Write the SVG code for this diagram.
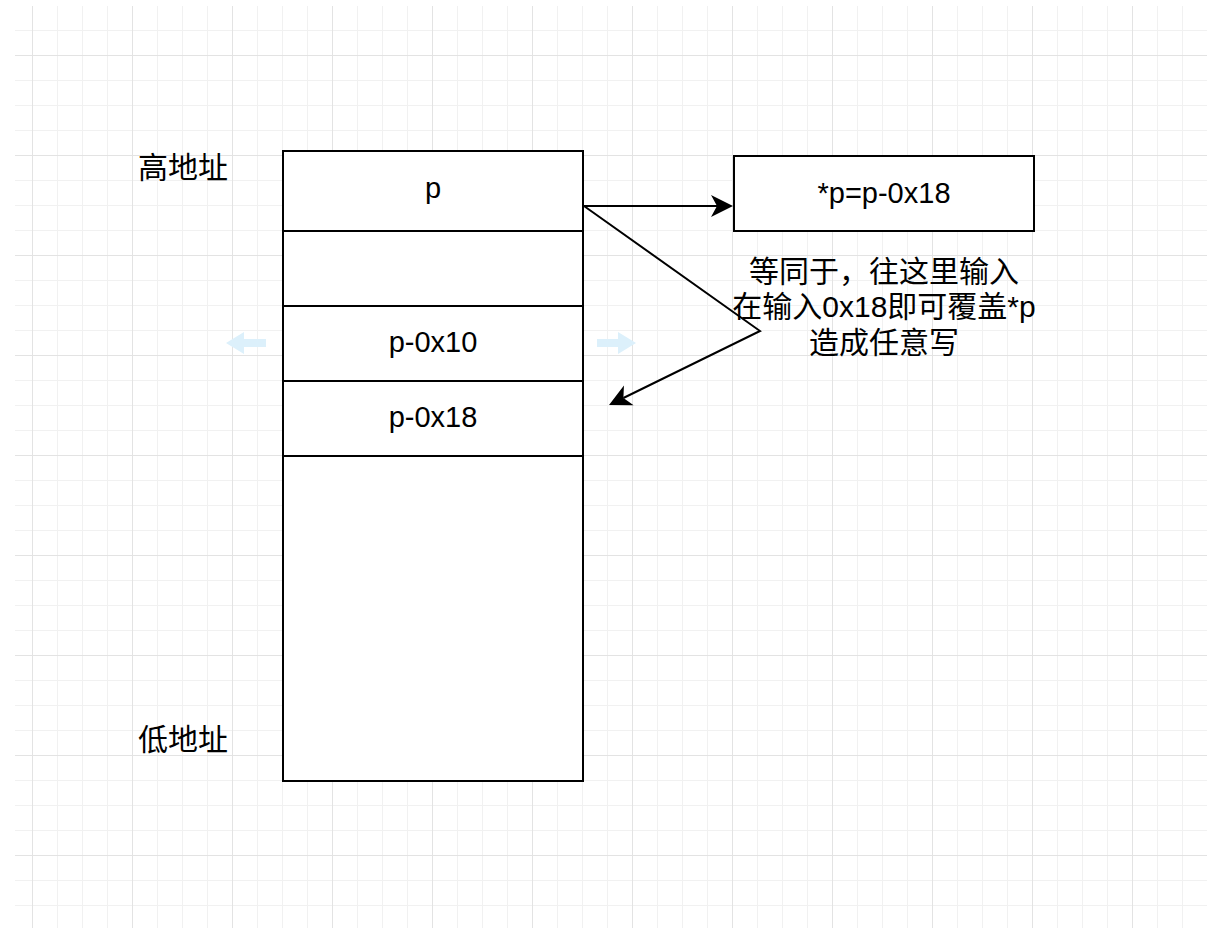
<svg xmlns="http://www.w3.org/2000/svg" width="1211" height="928" viewBox="0 0 1211 928">
  <defs>
    <pattern id="grid" patternUnits="userSpaceOnUse" x="32" y="55" width="100" height="100">
      <path d="M25.5,0V100M50.5,0V100M75.5,0V100M0,25.5H100M0,50.5H100M0,75.5H100" stroke="#f1f1f1" stroke-width="1" fill="none"/>
      <path d="M0.5,0V100M0,0.5H100" stroke="#e3e3e3" stroke-width="1" fill="none"/>
    </pattern>
    <marker id="arrow" markerUnits="userSpaceOnUse" markerWidth="22" markerHeight="22" refX="6" refY="11" orient="auto" overflow="visible">
      <path d="M0,0 L22,11 L0,22 L6,11 Z" fill="#000"/>
    </marker>
    <style>
      .box { fill: #fff; stroke: #000; stroke-width: 2; }
      .lat { font-family: "Liberation Sans", Arial, sans-serif; font-size: 29px; fill: #000; text-anchor: middle; }
      .cjk { font-family: "Liberation Sans", "Noto Sans CJK SC", sans-serif; font-size: 30px; fill: #000; text-anchor: middle; }
      .conn { fill: none; stroke: #000; stroke-width: 2; stroke-linejoin: miter; }
      .hover { fill: #dcf0fb; }
    </style>
  </defs>
  <rect width="1211" height="928" fill="#fff"/>
  <rect x="15" y="6" width="1192" height="922" fill="url(#grid)"/>

  <g id="label-high">
    <text class="cjk" x="183" y="178">高地址</text>
  </g>
  <g id="label-low">
    <text class="cjk" x="183" y="750">低地址</text>
  </g>

  <g id="stack">
    <g id="cell-p">
      <rect class="box" x="283" y="151" width="300" height="80"/>
      <text class="lat" x="433" y="198">p</text>
    </g>
    <g id="cell-empty">
      <rect class="box" x="283" y="231" width="300" height="75"/>
    </g>
    <g id="cell-p10">
      <rect class="box" x="283" y="306" width="300" height="75"/>
      <text class="lat" x="433" y="352">p-0x10</text>
    </g>
    <g id="cell-p18">
      <rect class="box" x="283" y="381" width="300" height="75"/>
      <text class="lat" x="433" y="427">p-0x18</text>
    </g>
    <g id="cell-low">
      <rect class="box" x="283" y="456" width="300" height="325"/>
    </g>
  </g>

  <g id="hover-arrows">
    <polygon class="hover" points="226,343 244,332 244,339 266,339 266,347 244,347 244,354"/>
    <polygon class="hover" points="636,343 618,332 618,339 597,339 597,347 618,347 618,354"/>
  </g>

  <g id="box-ptr">
    <rect class="box" x="734" y="156" width="300" height="75"/>
    <text class="lat" x="884" y="203">*p=p-0x18</text>
  </g>

  <g id="note">
    <text class="cjk" x="884" y="282">等同于，往这里输入</text>
    <text class="cjk" x="884" y="317">在输入0x18即可覆盖*p</text>
    <text class="cjk" x="884" y="353">造成任意写</text>
  </g>

  <g id="connectors">
    <path class="conn" d="M584,206 L717,206" marker-end="url(#arrow)"/>
    <path class="conn" d="M584,206 L760,331 L623.4,398" marker-end="url(#arrow)"/>
  </g>
</svg>
